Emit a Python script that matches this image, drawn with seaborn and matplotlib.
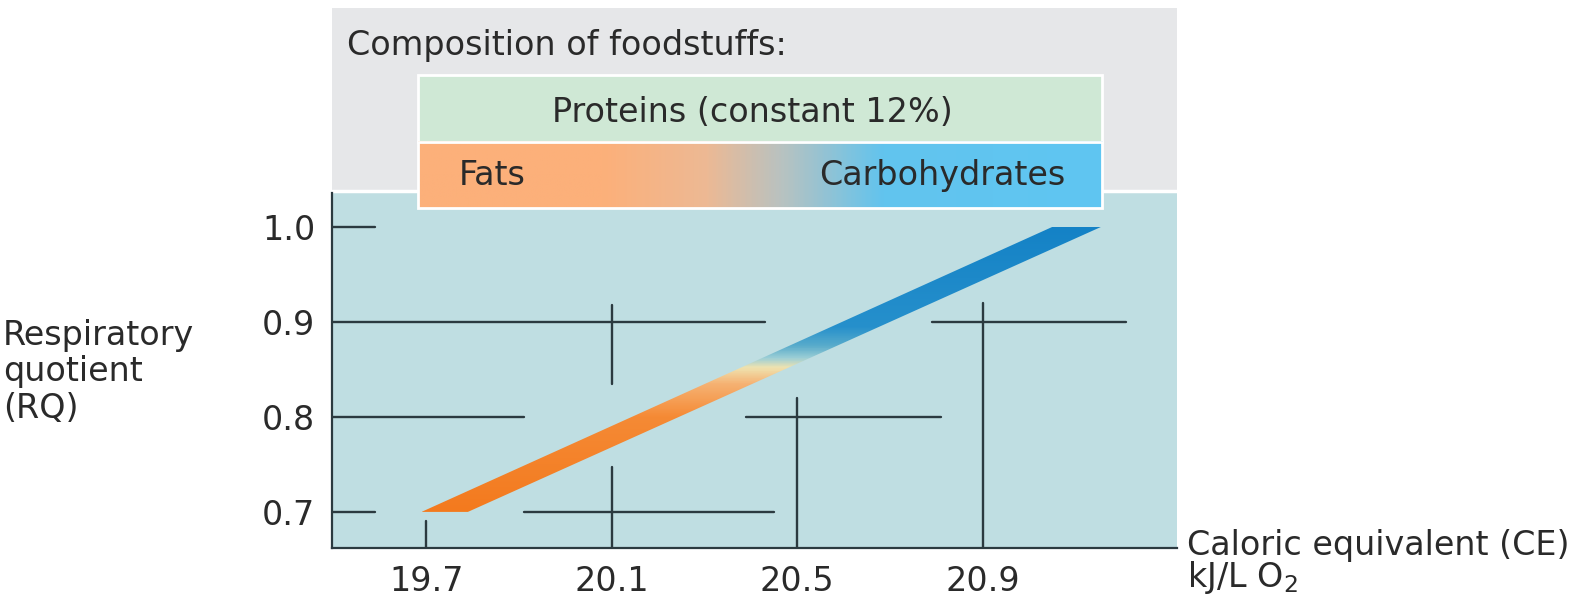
import numpy as np
import pandas as pd
import matplotlib.pyplot as plt
import seaborn as sns
from matplotlib.colors import LinearSegmentedColormap
from matplotlib.patches import Rectangle

# band: respiratory quotient vs caloric equivalent (edges)
rq_values = [0.70, 1.00]
ce_lower = [19.69, 21.05]
ce_upper = [19.79, 21.155]

rq_ticks = [0.7, 0.8, 0.9, 1.0]
ce_ticks = [19.7, 20.1, 20.5, 20.9]

# reading lines (horizontal at an RQ, vertical at a CE)
h_rq = [1.0, 0.9, 0.9, 0.8, 0.8, 0.7, 0.7]
h_ce_start = [19.497, 19.497, 20.79, 19.497, 20.39, 19.497, 19.91]
h_ce_end = [19.59, 20.43, 21.21, 19.91, 20.81, 19.59, 20.45]
v_ce = [19.7, 20.1, 20.1, 20.5, 20.9]
v_rq_start = [0.662, 0.835, 0.662, 0.662, 0.662]
v_rq_end = [0.69, 0.918, 0.747, 0.82, 0.92]

header_title = "Composition of foodstuffs:"
protein_label = "Proteins (constant 12%)"
fat_label = "Fats"
carb_label = "Carbohydrates"

TEAL = "#BFDEE2"
GRAY = "#E6E7E9"
INK = "#2b3a40"
TXT = "#2a2a2a"

sns.set_theme(style="white")
plt.rcParams['font.family'] = ['DejaVu Sans']

fig = plt.figure(figsize=(15.87, 6.15), dpi=100)
ax = fig.add_axes([332/1587, 1-548/615, (1177-332)/1587, (548-8)/615])

xlim = (19.497, 21.319)
ylim = (0.662, 1.2305)
panel_top = 1.036

ax.axhspan(ylim[0], panel_top, color=TEAL, zorder=0, lw=0)
ax.axhspan(panel_top, ylim[1], color=GRAY, zorder=0, lw=0)
ax.axhline(panel_top + 0.002, color="white", lw=2.5, zorder=1)

# reading lines via seaborn
rows = []
for i, (y, x0, x1) in enumerate(zip(h_rq, h_ce_start, h_ce_end)):
    rows += [("h%d" % i, x0, y), ("h%d" % i, x1, y)]
for i, (x, y0, y1) in enumerate(zip(v_ce, v_rq_start, v_rq_end)):
    rows += [("v%d" % i, x, y0), ("v%d" % i, x, y1)]
seg = pd.DataFrame(rows, columns=["seg", "ce", "rq"])
sns.lineplot(data=seg, x="ce", y="rq", units="seg", estimator=None, sort=False,
             color=INK, lw=1.7, legend=False, ax=ax, zorder=2)

# gradient band
band_cmap = LinearSegmentedColormap.from_list("band", [
    (0.0, "#F37A1E"), (0.333, "#F58A35"), (0.45, "#F6B273"),
    (0.507, "#EFE3B0"), (0.54, "#9DCFD6"), (0.583, "#5AACCB"),
    (0.65, "#2690CC"), (1.0, "#1482C6")])
poly = ax.fill_betweenx(rq_values, ce_lower, ce_upper, facecolor="none", edgecolor="none")
grad = np.linspace(0, 1, 400).reshape(-1, 1)
im = ax.imshow(grad, extent=[min(ce_lower), max(ce_upper), rq_values[0], rq_values[1]],
               origin="lower", aspect="auto", cmap=band_cmap, zorder=3)
im.set_clip_path(poly.get_paths()[0], transform=ax.transData)

# header boxes
bx0, bx1 = 19.683, 21.158
ax.add_patch(Rectangle((bx0, 1.0895), bx1 - bx0, 0.0705, fc="#CFE8D5", ec="white", lw=2, zorder=4))
box_cmap = LinearSegmentedColormap.from_list("box", [
    (0.0, "#FCB07A"), (0.27, "#FCB07A"), (0.42, "#EDB994"), (0.53, "#B9C2C0"),
    (0.68, "#62C4EE"), (1.0, "#5FC6F2")])
ax.imshow(np.linspace(0, 1, 400).reshape(1, -1), extent=[bx0, bx1, 1.02, 1.0895],
          aspect="auto", cmap=box_cmap, zorder=4)
ax.add_patch(Rectangle((bx0, 1.02), bx1 - bx0, 0.0695, fc="none", ec="white", lw=2, zorder=5))

ax.set_xlim(*xlim)
ax.set_ylim(*ylim)
ax.set_xticks(ce_ticks)
ax.set_xticklabels(["%.1f" % v for v in ce_ticks])
ax.set_yticks(rq_ticks)
ax.set_yticklabels(["%.1f" % v for v in rq_ticks])
ax.tick_params(length=0, labelsize=24, colors=TXT)
ax.tick_params(axis="y", pad=12)
ax.tick_params(axis="x", pad=12)
ax.set_xlabel("")
ax.set_ylabel("")
sns.despine(ax=ax)
for s in ["left", "bottom"]:
    ax.spines[s].set_color(INK)
    ax.spines[s].set_linewidth(1.6)
    ax.spines[s].set_zorder(6)
ax.spines["left"].set_bounds(ylim[0], panel_top)

fs = 24
fig.text(347/1587, 1-55/615, header_title, fontsize=fs, color=TXT, va="baseline")
fig.text(752/1587, 1-122/615, protein_label, fontsize=fs, color=TXT, ha="center", va="baseline")
fig.text(459/1587, 1-185/615, fat_label, fontsize=fs, color=TXT, va="baseline")
fig.text(1065/1587, 1-185/615, carb_label, fontsize=fs, color=TXT, ha="right", va="baseline")

fig.text(0.002, 1-372/615, "Respiratory\nquotient\n(RQ)", fontsize=fs, color=TXT,
         ha="left", va="center", linespacing=1.15)
fig.text(1187/1587, 1-555/615, "Caloric equivalent (CE)", fontsize=fs, color=TXT, va="baseline")
fig.text(1187/1587, 1-587/615, "kJ/L O$_2$", fontsize=fs, color=TXT, va="baseline")

fig.savefig("out.png", dpi=100, facecolor="white")
